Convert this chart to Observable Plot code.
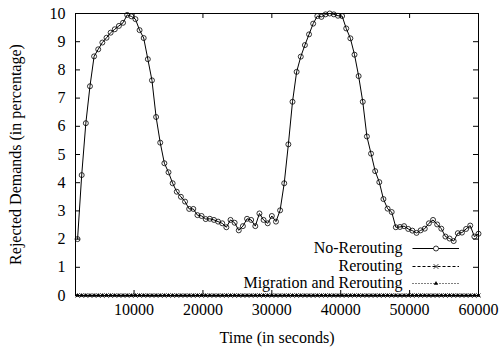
<!DOCTYPE html>
<html><head><meta charset="utf-8">
<script src="https://cdn.jsdelivr.net/npm/d3@7"></script>
<script src="https://cdn.jsdelivr.net/npm/@observablehq/plot@0.6"></script>
<style>html,body{margin:0;padding:0;background:#fff}#chart svg{display:block}</style>
</head><body><div id="chart"></div>
<script>
const times = [
  1800,2400,3000,3600,4200,4800,5400,6000,6600,7200,
  7800,8400,9000,9600,10200,10800,11400,12000,12600,13200,
  13800,14400,15000,15600,16200,16800,17400,18000,18600,19200,
  19800,20400,21000,21600,22200,22800,23400,24000,24600,25200,
  25800,26400,27000,27600,28200,28800,29400,30000,30600,31200,
  31800,32400,33000,33600,34200,34800,35400,36000,36600,37200,
  37800,38400,39000,39600,40200,40800,41400,42000,42600,43200,
  43800,44400,45000,45600,46200,46800,47400,48000,48600,49200,
  49800,50400,51000,51600,52200,52800,53400,54000,54600,55200,
  55800,56400,57000,57600,58200,58800,59400,60000
];
const noRerouting = [
  2.0,4.27,6.11,7.42,8.48,8.73,8.97,9.14,9.32,9.44,
  9.56,9.67,9.95,9.9,9.8,9.41,9.13,8.38,7.63,6.33,
  5.42,4.69,4.37,3.98,3.68,3.50,3.33,3.07,3.07,2.85,
  2.82,2.71,2.72,2.68,2.62,2.56,2.42,2.68,2.58,2.31,
  2.46,2.72,2.68,2.46,2.91,2.68,2.56,2.82,2.62,3.02,
  3.98,5.36,6.87,7.93,8.47,8.88,9.26,9.64,9.91,9.88,
  9.97,10.0,9.97,9.92,9.91,9.47,9.12,8.54,7.78,6.87,
  5.64,5.03,4.41,4.02,3.42,3.08,2.96,2.42,2.43,2.46,
  2.36,2.30,2.22,2.31,2.37,2.56,2.68,2.52,2.37,2.09,
  2.02,1.93,2.21,2.23,2.36,2.48,2.09,2.19
];
const rerouting = [
  0,0,0,0,0,0,0,0,0,0, 0,0,0,0,0,0,0,0,0,0,
  0,0,0,0,0,0,0,0,0,0, 0,0,0,0,0,0,0,0,0,0,
  0,0,0,0,0,0,0,0,0,0, 0,0,0,0,0,0,0,0,0,0,
  0,0,0,0,0,0,0,0,0,0, 0,0,0,0,0,0,0,0,0,0,
  0,0,0,0,0,0,0,0,0,0, 0,0,0,0,0,0,0,0
];
const migration = [
  0,0,0,0,0,0,0,0,0,0, 0,0,0,0,0,0,0,0,0,0,
  0,0,0,0,0,0,0,0,0,0, 0,0,0,0,0,0,0,0,0,0,
  0,0,0,0,0,0,0,0,0,0, 0,0,0,0,0,0,0,0,0,0,
  0,0,0,0,0,0,0,0,0,0, 0,0,0,0,0,0,0,0,0,0,
  0,0,0,0,0,0,0,0,0,0, 0,0,0,0,0,0,0,0
];
const seriesNames = ["No-Rerouting", "Rerouting", "Migration and Rerouting"];
const xTicks = [10000, 20000, 30000, 40000, 50000, 60000];
const yTicks = [0, 1, 2, 3, 4, 5, 6, 7, 8, 9, 10];
const xLabel = "Time (in seconds)";
const yLabel = "Rejected Demands (in percentage)";

const rowsA = times.map((t, i) => ({t, v: noRerouting[i]}));
const rowsB = times.map((t, i) => ({t, v: rerouting[i]}));
const rowsC = times.map((t, i) => ({t, v: migration[i]}));

const W = 500, H = 352, mL = 75, mR = 22, mT = 13, mB = 57;
const iw = W - mL - mR, ih = H - mT - mB;
const FONT = "'Liberation Serif','Times New Roman',Times,serif";
const FS = 16;

const plot = Plot.plot({
  width: W, height: H,
  marginLeft: mL, marginRight: mR, marginTop: mT, marginBottom: mB,
  style: {fontFamily: FONT, fontSize: FS + "px", background: "white", color: "black", overflow: "visible"},
  x: {domain: [1500, 60000]},
  y: {domain: [0, 10]},
  marks: [
    Plot.axisX(xTicks, {tickSize: 0, tickPadding: 8, tickFormat: d3.format("d"), fontSize: FS,
      label: xLabel, labelAnchor: "center", labelArrow: "none", labelOffset: 47}),
    Plot.axisY(yTicks, {tickSize: 0, tickPadding: 10, fontSize: FS,
      label: yLabel, labelAnchor: "center", labelArrow: "none", labelOffset: 66}),
    Plot.tickX(xTicks, {x: d => d, insetTop: ih - 5, stroke: "black"}),
    Plot.tickX(xTicks, {x: d => d, insetBottom: ih - 5, stroke: "black"}),
    Plot.tickY(yTicks, {y: d => d, insetRight: iw - 5, stroke: "black"}),
    Plot.tickY(yTicks, {y: d => d, insetLeft: iw - 5, stroke: "black"}),
    Plot.line(rowsB, {x: "t", y: "v", stroke: "black", strokeWidth: 1, strokeDasharray: "3,2"}),
    Plot.line(rowsC, {x: "t", y: "v", stroke: "black", strokeWidth: 1, strokeDasharray: "1,2"}),
    Plot.dot(rowsB, {x: "t", y: "v", symbol: "times", r: 2, stroke: "black", strokeWidth: 0.8}),
    Plot.dot(rowsC, {x: "t", y: "v", symbol: "triangle", r: 1.6, fill: "black", stroke: "none"}),
    Plot.line(rowsA, {x: "t", y: "v", stroke: "black", strokeWidth: 1}),
    Plot.dot(rowsA, {x: "t", y: "v", r: 2.5, stroke: "black", strokeWidth: 0.8, fill: "none"}),
    Plot.frame({stroke: "black", strokeWidth: 1})
  ]
});
document.getElementById("chart").appendChild(plot);

// Legend (inside plot area, bottom right)
const svg = d3.select(plot);
const lg = svg.append("g").attr("font-family", FONT).attr("font-size", FS);
const legendY = [248, 266, 283];
const textRight = 402.5, lineX1 = 412.5, lineX2 = 459, markX = 436;
const dashes = [null, "3,2", "1,2"];
seriesNames.forEach((name, i) => {
  const y = legendY[i];
  lg.append("text").attr("x", textRight).attr("y", y).attr("dy", "0.32em")
    .attr("text-anchor", "end").attr("fill", "black").text(name);
  lg.append("line").attr("x1", lineX1).attr("x2", lineX2).attr("y1", y + 0.5).attr("y2", y + 0.5)
    .attr("stroke", "black").attr("stroke-width", 1).attr("stroke-dasharray", dashes[i]);
  const sym = [d3.symbolCircle, d3.symbolTimes, d3.symbolTriangle][i];
  const size = [Math.PI * 2.5 * 2.5, 16, 8][i];
  lg.append("path").attr("transform", `translate(${markX},${y + 0.5})`)
    .attr("d", d3.symbol(sym, size)())
    .attr("fill", i === 2 ? "black" : (i === 0 ? "white" : "none"))
    .attr("stroke", i === 2 ? "none" : "black").attr("stroke-width", 0.8);
});
</script>
</body></html>
